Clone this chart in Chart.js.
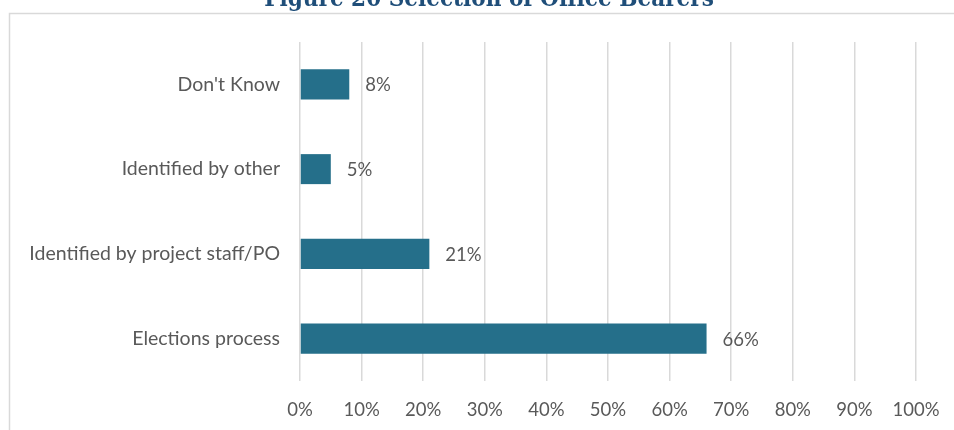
<!DOCTYPE html>
<html>
<head>
<meta charset="utf-8">
<script src="https://cdn.jsdelivr.net/npm/chart.js@4"></script>
<style>
  html, body { margin: 0; padding: 0; background: #fff; overflow: hidden; }
  #wrap { position: relative; width: 954px; height: 430px; }
</style>
</head>
<body>
<div id="wrap"><canvas id="officeChart" width="954" height="430"></canvas></div>
<script>
// Figure 20 - selection of office bearers
const categories = ["Don't Know", "Identified by other", "Identified by project staff/PO", "Elections process"];
const shares = [8, 5, 21, 66];
const tickValues = [0, 10, 20, 30, 40, 50, 60, 70, 80, 90, 100];
const chartTitle = "Figure 20 Selection of Office Bearers";

const textColor = "#595959";
const labelFont = "Lato, sans-serif";

// frame + cut-off title, like the pasted Word figure
const framePlugin = {
  id: "frame",
  beforeDraw(chart) {
    const c = chart.ctx;
    c.save();
    c.strokeStyle = "#d9d9d9";
    c.lineWidth = 1.5;
    c.beginPath();
    c.moveTo(9.5, 430);
    c.lineTo(9.5, 13.5);
    c.lineTo(954, 13.5);
    c.stroke();
    c.fillStyle = "#1f4e79";
    c.font = "bold 24px 'DejaVu Serif Condensed', 'Liberation Serif', serif";
    c.textAlign = "center";
    c.textBaseline = "alphabetic";
    c.fillText(chartTitle, 489, 6);
    c.restore();
  }
};

// value labels to the right of each bar
const valueLabels = {
  id: "valueLabels",
  afterDatasetsDraw(chart) {
    const c = chart.ctx;
    const meta = chart.getDatasetMeta(0);
    c.save();
    c.fillStyle = textColor;
    c.font = "18.5px " + labelFont;
    c.textAlign = "left";
    c.textBaseline = "middle";
    meta.data.forEach((bar, i) => {
      c.fillText(shares[i] + "%", bar.x + 16, bar.y + 1);
    });
    c.restore();
  }
};

new Chart(document.getElementById("officeChart").getContext("2d"), {
  type: "bar",
  data: {
    labels: categories,
    datasets: [{
      data: shares,
      backgroundColor: "#256f8a",
      borderWidth: 0,
      categoryPercentage: 1,
      barPercentage: 0.354
    }]
  },
  options: {
    indexAxis: "y",
    responsive: false,
    animation: false,
    layout: { padding: { top: 42, right: 38, bottom: 0, left: 0 } },
    plugins: {
      legend: { display: false },
      title: { display: false },
      tooltip: { enabled: false }
    },
    scales: {
      x: {
        min: 0,
        max: 100,
        afterBuildTicks(scale) {
          scale.ticks = tickValues.map(v => ({ value: v }));
        },
        afterFit(scale) {
          scale.height = 49;
          scale.paddingLeft = 0;
          scale.paddingRight = 0;
        },
        grid: { color: "#d9d9d9", lineWidth: 1.5, drawTicks: false },
        border: { display: false },
        ticks: {
          padding: 18,
          color: textColor,
          font: { family: labelFont, size: 18.5 },
          callback: v => v + "%"
        }
      },
      y: {
        afterFit(scale) { scale.width = 300; },
        grid: { display: false, drawTicks: false },
        border: { display: false },
        ticks: {
          padding: 20,
          color: textColor,
          font: { family: labelFont, size: 19.5 }
        }
      }
    }
  },
  plugins: [framePlugin, valueLabels]
});
</script>
</body>
</html>
